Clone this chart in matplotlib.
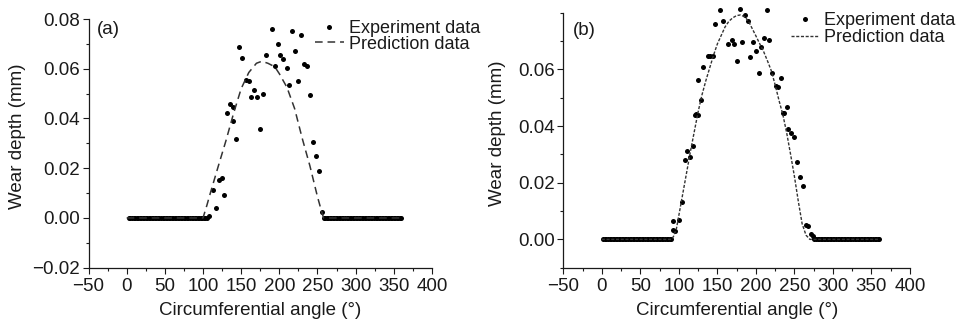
import numpy as np
import matplotlib
matplotlib.use("Agg")
import matplotlib.pyplot as plt
from matplotlib.ticker import MultipleLocator, FuncFormatter

plt.rcParams['font.family'] = ['Liberation Sans', 'DejaVu Sans']
plt.rcParams['font.size'] = 13.5
plt.rcParams['text.color'] = '#1a1a1a'
plt.rcParams['axes.labelcolor'] = '#1a1a1a'
plt.rcParams['xtick.color'] = '#1a1a1a'
plt.rcParams['ytick.color'] = '#1a1a1a'

# ---- panel (a) data ----
# experiment points at zero depth (measurement grid outside the contact zone)
a_zero_x = np.concatenate([np.arange(3, 107, 2), np.arange(258, 362, 2)])
a_zero_y = np.zeros(len(a_zero_x))
a_exp_x = [108, 112.5, 116.4, 120.7, 124.3, 127.7, 131.7, 135.2, 138.7, 139.5, 143,
           147.4, 151.3, 156.2, 159.7, 162.3, 166.7, 170.2, 174.5, 178.5, 182, 190,
           194.2, 197.7, 201.2, 205.2, 209.6, 213, 216.5, 220.9, 224.8, 228, 232.7,
           236.6, 240.2, 243.7, 247.6, 251.5, 255.5]
a_exp_y = [0.0008, 0.0112, 0.0040, 0.0152, 0.0161, 0.0091, 0.0424, 0.0457, 0.0448, 0.0388, 0.0316,
           0.0687, 0.0645, 0.0555, 0.0552, 0.0485, 0.0515, 0.0485, 0.0357, 0.0497, 0.0655, 0.0761,
           0.0612, 0.0699, 0.0657, 0.0639, 0.0603, 0.0535, 0.0751, 0.0671, 0.0551, 0.0737, 0.0621,
           0.0612, 0.0495, 0.0307, 0.0248, 0.0187, 0.0024]
a_pred_x = [0, 100, 105, 110, 120, 130, 140, 150, 160, 170, 177, 185, 194, 200, 210,
            220, 230, 240, 250, 255, 258, 360]
a_pred_y = [0, 0, 0.005, 0.0104, 0.0208, 0.031, 0.042, 0.052, 0.0585, 0.0622, 0.063, 0.0622,
            0.0608, 0.058, 0.0525, 0.044, 0.032, 0.021, 0.0085, 0.003, 0, 0]

# ---- panel (b) data ----
b_zero_x = np.concatenate([np.arange(2, 92, 2), np.arange(276, 362, 2)])
b_zero_y = np.zeros(len(b_zero_x))
b_exp_x = [92.7, 92.2, 95.5, 99.8, 104.1, 107.6, 111, 114.5, 118.8, 121.2, 124.3, 122.3,
           128.8, 125.3, 131.8, 137.2, 140.7, 144.2, 146.5, 153.8, 156.9, 163.6, 169.2,
           171.4, 175.1, 179, 182.4, 185.5, 189.4, 192.4, 196.8, 200.3, 204.2, 206.8,
           211.1, 215, 217.6, 220.5, 225.7, 229.1, 232.2, 234.8, 236.5, 239.9, 241.8,
           244.9, 249.2, 253.5, 257, 260.5, 264.5, 267.9, 271.5, 273.7]
b_exp_y = [0.0032, 0.0064, 0.0028, 0.0069, 0.0133, 0.0281, 0.0311, 0.0292, 0.0329, 0.0440, 0.0440, 0.0443,
           0.0493, 0.0562, 0.0607, 0.0648, 0.0648, 0.0648, 0.0759, 0.0810, 0.0771, 0.0691, 0.0703,
           0.0691, 0.0630, 0.0813, 0.0695, 0.0791, 0.0769, 0.0644, 0.0695, 0.0665, 0.0587, 0.0680,
           0.0712, 0.0809, 0.0704, 0.0586, 0.0542, 0.0539, 0.0571, 0.0445, 0.0445, 0.0466, 0.0390,
           0.0374, 0.0360, 0.0272, 0.0219, 0.0187, 0.0052, 0.0048, 0.0020, 0.0012]
b_pred_x = [0, 90, 93, 97, 101, 105, 110, 115, 120, 125, 130, 135, 140, 145, 150, 155, 160,
            165, 170, 175, 180, 185, 190, 195, 200, 205, 210, 215, 220, 225, 230, 235, 240,
            245, 250, 255, 260, 265, 270, 360]
b_pred_y = [0, 0, 0.001, 0.004, 0.010, 0.016, 0.0235, 0.031, 0.038, 0.045, 0.051, 0.056, 0.0605,
            0.065, 0.069, 0.072, 0.075, 0.077, 0.0782, 0.079, 0.0792, 0.0786, 0.0772, 0.0745,
            0.0718, 0.069, 0.0663, 0.063, 0.0595, 0.0545, 0.049, 0.044, 0.0375, 0.030, 0.0222,
            0.0135, 0.0055, 0.0015, 0, 0]

fig = plt.figure(figsize=(9.62, 3.24), dpi=100)
W, H = 962, 324
ax_a = fig.add_axes([88.5 / W, 1 - 267.7 / H, 343.5 / W, 248.7 / H])
ax_b = fig.add_axes([563.3 / W, 1 - 267.7 / H, 346.7 / W, 255 / H])

fmt_y = FuncFormatter(lambda v, pos: ('%.2f' % v).replace('-', '\u2212'))


def style_axes(ax, ylim):
    ax.set_xlim(-50, 400)
    ax.set_ylim(*ylim)
    ax.xaxis.set_major_locator(MultipleLocator(50))
    ax.xaxis.set_minor_locator(MultipleLocator(25))
    ax.yaxis.set_major_locator(MultipleLocator(0.02))
    ax.yaxis.set_minor_locator(MultipleLocator(0.01))
    ax.yaxis.set_major_formatter(fmt_y)
    for s in ['top', 'right']:
        ax.spines[s].set_visible(False)
    for s in ['left', 'bottom']:
        ax.spines[s].set_linewidth(0.9)
        ax.spines[s].set_color('#1a1a1a')
    ax.tick_params(which='major', direction='out', length=4.3, width=0.8)
    ax.tick_params(which='minor', direction='out', length=2.2, width=0.8)
    ax.tick_params(axis='x', pad=3)
    ax.tick_params(axis='y', pad=2)
    ax.set_xlabel('Circumferential angle (°)', labelpad=5)
    ax.set_ylabel('Wear depth (mm)')


style_axes(ax_a, (-0.02, 0.08))
style_axes(ax_b, (-0.01, 0.08))
ax_b.set_yticks([0.0, 0.02, 0.04, 0.06])

ax_a.yaxis.set_label_coords(-0.182, 0.53)
ax_b.yaxis.set_label_coords(-0.165, 0.526)

# panel (a)
ax_a.plot(a_zero_x, a_zero_y, 'o', color='black', ms=3.6, mew=0, clip_on=False)
ax_a.plot(a_exp_x, a_exp_y, 'o', color='black', ms=3.6, mew=0, clip_on=False,
          label='Experiment data')
ax_a.plot(a_pred_x, a_pred_y, color='#333333', lw=1.1, dashes=(5, 3.2),
          label='Prediction data')
ax_a.text(0.025, 0.956, '(a)', transform=ax_a.transAxes, ha='left', va='center')
ax_a.legend(loc='center left', bbox_to_anchor=(0.659, 0.93), frameon=False,
            handlelength=1.6, handletextpad=0.27, labelspacing=-0.1,
            borderpad=0, borderaxespad=0, fontsize=13)

# panel (b)
ax_b.plot(b_zero_x, b_zero_y, 'o', color='black', ms=3.6, mew=0, clip_on=False)
ax_b.plot(b_exp_x, b_exp_y, 'o', color='black', ms=3.6, mew=0, clip_on=False,
          label='Experiment data')
ax_b.plot(b_pred_x, b_pred_y, color='#333333', lw=1.0, dashes=(2.2, 1.2),
          label='Prediction data')
ax_b.text(0.028, 0.932, '(b)', transform=ax_b.transAxes, ha='left', va='center')
ax_b.legend(loc='center left', bbox_to_anchor=(0.656, 0.936), frameon=False,
            handlelength=1.55, handletextpad=0.27, labelspacing=0.0,
            borderpad=0, borderaxespad=0, fontsize=13)

fig.savefig('out.png', dpi=100)
